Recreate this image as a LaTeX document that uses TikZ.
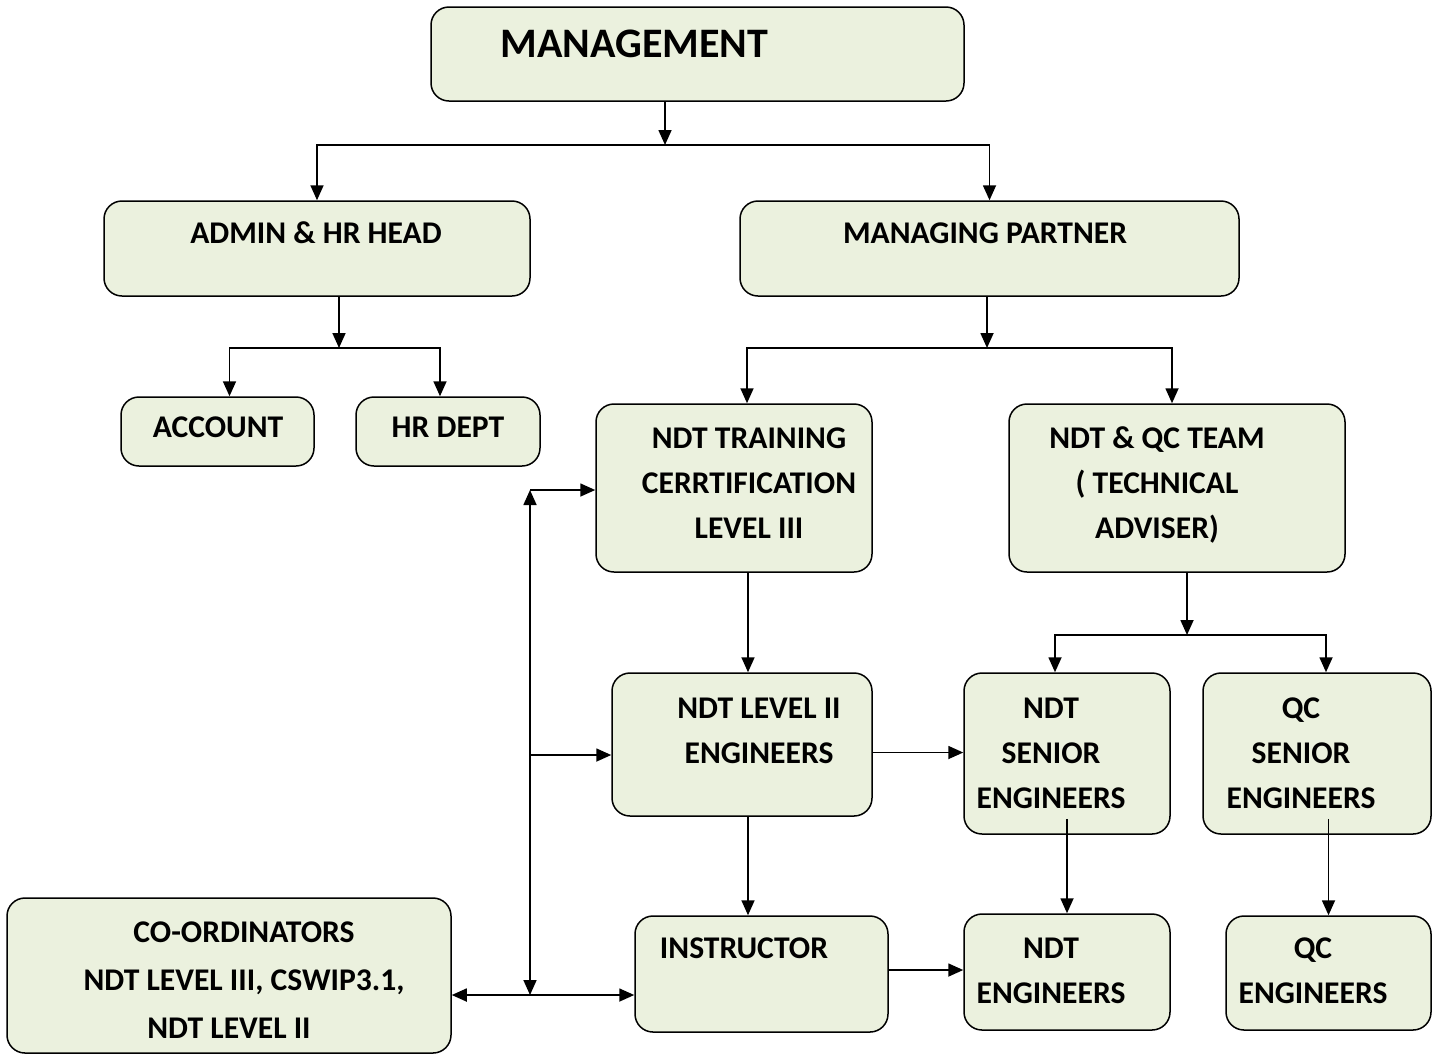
\documentclass[tikz,border=0pt]{standalone}
\usepackage{fontspec}
\setmainfont{Carlito}
\usetikzlibrary{arrows.meta,fit}
\definecolor{boxfill}{RGB}{235,241,222}

\begin{document}
\begin{tikzpicture}[x=0.5pt,y=-0.5pt,
  box/.style={draw,fill=boxfill,rounded corners=9pt,line width=0.75pt,inner sep=0pt},
  txt/.style={font=\fontsize{15.8}{22.5}\selectfont\bfseries,align=center,inner sep=0pt},
  arr/.style={line width=0.85pt,-{Triangle[length=7.5pt,width=6.5pt]}},
  dbl/.style={line width=0.85pt,{Triangle[length=7.5pt,width=6.5pt]}-{Triangle[length=7.5pt,width=6.5pt]}}]
\useasboundingbox (0,0) rectangle (1438,1056);

% BOXES
\node[box,fit={(431,7) (964,101)}] (mgmt) {};
\node[box,fit={(104,201) (530,296)}] (admin) {};
\node[box,fit={(740,201) (1239,296)}] (mp) {};
\node[box,fit={(121,397) (314,466)}] (acct) {};
\node[box,fit={(356,397) (540,466)}] (hr) {};
\node[box,fit={(596,404) (872,572)}] (train) {};
\node[box,fit={(1009,404) (1345,572)}] (team) {};
\node[box,fit={(612,673) (872,816)}] (lii) {};
\node[box,fit={(964,673) (1170,834)}] (nsen) {};
\node[box,fit={(1203,673) (1431,834)}] (qsen) {};
\node[box,fit={(635,916) (888,1032)}] (instr) {};
\node[box,fit={(964,914) (1170,1030)}] (neng) {};
\node[box,fit={(1226,916) (1431,1030)}] (qeng) {};
\node[box,fit={(7,898) (451,1053)}] (coord) {};

% TEXTS
\node[txt,font=\fontsize{21}{24}\selectfont\bfseries] (mgmt-t) at (634.5,44) {MANAGEMENT};
\node[txt] (admin-t) at (316,233) {ADMIN \& HR HEAD};
\node[txt] (mp-t) at (985,233) {MANAGING PARTNER};
\node[txt] (acct-t) at (218,427) {ACCOUNT};
\node[txt] (hr-t) at (448,427) {HR DEPT};
\node[txt] (train-t) at (749,483) {NDT TRAINING\\CERRTIFICATION\\LEVEL III};
\node[txt] (team-t) at (1157,485) {NDT \& QC TEAM\\( TECHNICAL\\ADVISER)};
\node[txt] (lii-t) at (759,730.5) {NDT LEVEL II\\ENGINEERS};
\node[txt] (nsen-t) at (1051,753) {NDT\\SENIOR\\ENGINEERS};
\node[txt] (qsen-t) at (1301,753) {QC\\SENIOR\\ENGINEERS};
\node[txt] (instr-t) at (744,948) {INSTRUCTOR};
\node[txt] (neng-t) at (1051,970.5) {NDT\\ENGINEERS};
\node[txt] (qeng-t) at (1313,970.5) {QC\\ENGINEERS};
\node[txt,font=\fontsize{15.8}{24}\selectfont\bfseries] (coord-t) at (244,980) {CO-ORDINATORS\\NDT LEVEL III, CSWIP3.1,\\NDT LEVEL II\hspace*{15pt}};

% junctions
\coordinate (j1) at (665,145);
\coordinate (j2) at (339,348);
\coordinate (j3) at (987,348);
\coordinate (j4) at (1187,635);
\coordinate (bt) at (530,490);
\coordinate (bm) at (530,755);
\coordinate (bb) at (530,995);

% CONNECTORS
\draw[arr] (mgmt.south -| j1) -- (j1);
\draw[arr] (j1) -| (admin.north);
\draw[arr] (j1) -| (mp.north);
\draw[arr] (admin.south -| j2) -- (j2);
\draw[arr] (j2) -| ([xshift=6pt]acct.north);
\draw[arr] (j2) -| ([xshift=-4pt]hr.north);
\draw[arr] (mp.south -| j3) -- (j3);
\draw[arr] (j3) -| ([xshift=6.5pt]train.north);
\draw[arr] (j3) -| ([xshift=-2.5pt]team.north);
\draw[arr] ([xshift=7pt]train.south) -- ([xshift=7pt]train.south |- lii.north);
\draw[arr] (team.south -| j4) -- (j4);
\draw[arr] (j4) -| ([xshift=-6pt]nsen.north);
\draw[arr] (j4) -| ([xshift=4.5pt]qsen.north);
\draw[arr] ([yshift=-4pt]lii.east) -- ([yshift=-4pt]lii.east -| nsen.west);
\draw[arr] ([xshift=3pt]lii.south) -- ([xshift=3pt]lii.south |- instr.north);
\draw[arr] ([yshift=8pt]nsen.south) -- (neng.north);
\draw[arr] ([yshift=8pt]qeng.north |- qsen.south) -- (qeng.north);
\draw[arr] ([yshift=2pt]instr.east) -- ([yshift=2pt]instr.east -| neng.west);
% co-ordinators bus
\draw[dbl] (bb) -- (bt);
\draw[arr] (bt) -- (bt -| train.west);
\draw[arr] (bm) -- (bm -| lii.west);
\draw[dbl] (coord.east |- bb) -- (bb -| instr.west);

\end{tikzpicture}
\end{document}
